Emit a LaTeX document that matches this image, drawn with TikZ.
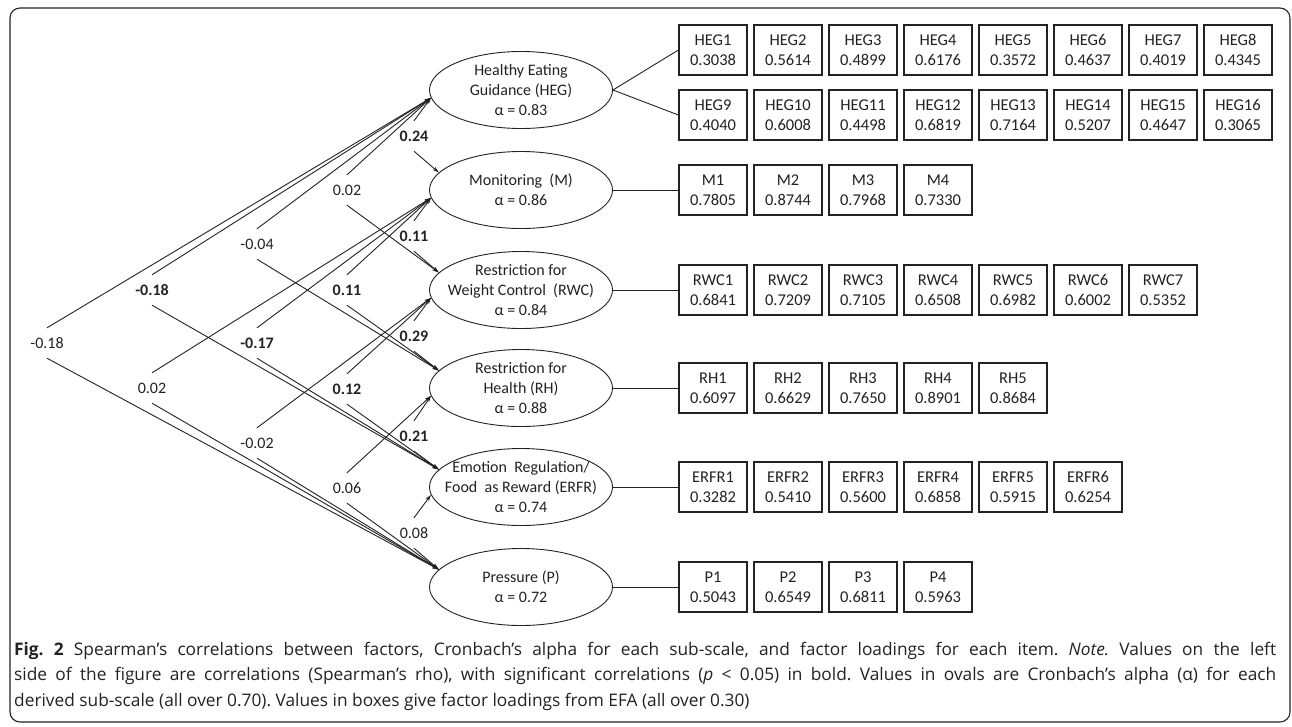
\documentclass[tikz,border=0pt]{standalone}
\usepackage{fontspec}
\setmainfont{Carlito}
\newfontfamily\capfont{Open Sans}
\usetikzlibrary{arrows.meta,shapes.geometric}
\definecolor{ink}{HTML}{222222}
\tikzset{
  factor/.style={ellipse, draw=ink, line width=0.9pt, minimum width=183pt, minimum height=77pt, inner sep=0pt},
  ftext/.style={inner sep=0pt, align=center, text=ink, font=\fontsize{16}{20}\selectfont},
  itembox/.style={rectangle, draw=ink, line width=1.2pt, minimum width=68pt, minimum height=50pt, inner sep=0pt, align=center, text=ink, font=\fontsize{16.5}{20}\selectfont},
  corrlbl/.style={inner sep=0pt, minimum height=30pt, text=ink, font=\fontsize{16}{18}\selectfont},
  link/.style={draw=ink, line width=0.9pt},
  corrA/.style={link, {Stealth[length=6.5pt,width=4pt]}-},
  corrB/.style={link, -{Stealth[length=6.5pt,width=4pt]}},
  frame/.style={draw=ink, line width=1.1pt, rounded corners=10pt}
}
\begin{document}
\begin{tikzpicture}[x=1pt,y=-1pt]
\useasboundingbox (0,0) rectangle (1292,726);
\draw[frame] (10,8) rectangle (1290,722);

% factors
\node[factor] (HEG) at (521,90) {};
\node[ftext] (HEGt) at (HEG) {Healthy Eating\\Guidance (HEG)\\α = 0.83};
\node[factor] (M) at (521,190) {};
\node[ftext] (Mt) at (M) {Monitoring~ (M)\\α = 0.86};
\node[factor] (RWC) at (521,290) {};
\node[ftext] (RWCt) at (RWC) {Restriction for\\Weight Control~ (RWC)\\α = 0.84};
\node[factor] (RH) at (521,388) {};
\node[ftext] (RHt) at (RH) {Restriction for\\Health (RH)\\α = 0.88};
\node[factor] (ERFR) at (521,487) {};
\node[ftext] (ERFRt) at (ERFR) {Emotion~ Regulation/\\Food~ as Reward (ERFR)\\α = 0.74};
\node[factor] (P) at (521,587) {};
\node[ftext] (Pt) at (P) {Pressure (P)\\α = 0.72};

% item boxes
\foreach \v [count=\i] in {0.3038,0.5614,0.4899,0.6176,0.3572,0.4637,0.4019,0.4345}
  {\node[itembox] (HEG\i) at ({713+75*(\i-1)},50) {HEG\i\\\v};}
\foreach \v [count=\i from 9] in {0.4040,0.6008,0.4498,0.6819,0.7164,0.5207,0.4647,0.3065}
  {\node[itembox] (HEG\i) at ({713+75*(\i-9)},115) {HEG\i\\\v};}
\foreach \v [count=\i] in {0.7805,0.8744,0.7968,0.7330}
  {\node[itembox] (M\i) at ({713+75*(\i-1)},190) {M\i\\\v};}
\foreach \v [count=\i] in {0.6841,0.7209,0.7105,0.6508,0.6982,0.6002,0.5352}
  {\node[itembox] (RWC\i) at ({713+75*(\i-1)},290) {RWC\i\\\v};}
\foreach \v [count=\i] in {0.6097,0.6629,0.7650,0.8901,0.8684}
  {\node[itembox] (RH\i) at ({713+75*(\i-1)},388) {RH\i\\\v};}
\foreach \v [count=\i] in {0.3282,0.5410,0.5600,0.6858,0.5915,0.6254}
  {\node[itembox] (ERFR\i) at ({713+75*(\i-1)},487) {ERFR\i\\\v};}
\foreach \v [count=\i] in {0.5043,0.6549,0.6811,0.5963}
  {\node[itembox] (P\i) at ({713+75*(\i-1)},587) {P\i\\\v};}

% loadings connectors
\draw[link] (HEG.east) -- (HEG1.west);
\draw[link] (HEG.east) -- (HEG9.west);
\draw[link] (M.east) -- (M1.west);
\draw[link] (RWC.east) -- (RWC1.west);
\draw[link] (RH.east) -- (RH1.west);
\draw[link] (ERFR.east) -- (ERFR1.west);
\draw[link] (P.east) -- (P1.west);

% correlations
\foreach \a/\b/\x/\y/\t [count=\k] in {
  HEG/M/414/136/\textbf{0.24},
  HEG/RWC/347/190/0.02,
  M/RWC/414/236/\textbf{0.11},
  HEG/RH/257/244/-0.04,
  HEG/ERFR/152/290/\textbf{-0.18},
  M/RH/347/290/\textbf{0.11},
  RWC/RH/414/336/\textbf{0.29},
  HEG/P/47/343/-0.18,
  M/ERFR/257/343/\textbf{-0.17},
  M/P/152/388/0.02,
  RWC/ERFR/347/389/\textbf{0.12},
  RH/ERFR/414/436/\textbf{0.21},
  RWC/P/257/443/-0.02,
  RH/P/347/488/0.06,
  ERFR/P/414/533/0.08}
{
  \node[corrlbl] (c\k) at (\x,\y) {\t};
  \draw[corrA] (\a.185) -- (c\k.north);
  \draw[corrB] (c\k.south) -- (\b.168);
}

% caption
\node[anchor=north west, inner sep=0pt, text width=1262pt, align=justify, text=ink,
      font=\capfont\frenchspacing\fontsize{17.3}{25.5}\selectfont] (cap) at (14,642)
{\textbf{Fig. 2} Spearman’s correlations between factors, Cronbach’s alpha for each sub-scale, and factor loadings for each item. \textit{Note.} Values on the left\linebreak
side of the figure are correlations (Spearman’s rho), with significant correlations (\textit{p} < 0.05) in bold. Values in ovals are Cronbach’s alpha (α) for each\linebreak
derived sub-scale (all over 0.70). Values in boxes give factor loadings from EFA (all over 0.30)};
\end{tikzpicture}
\end{document}
